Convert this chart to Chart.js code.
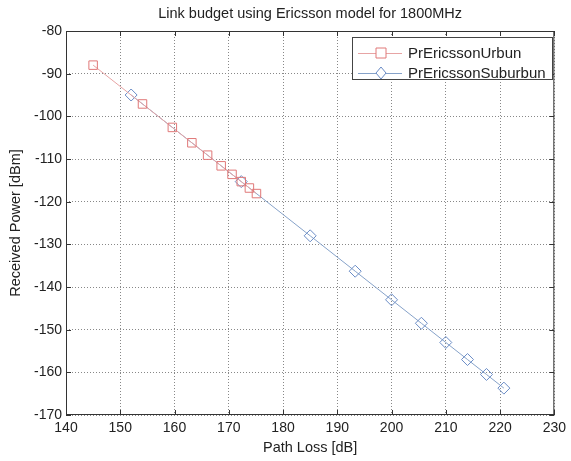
<!DOCTYPE html>
<html>
<head>
<meta charset="utf-8">
<script src="https://cdn.jsdelivr.net/npm/chart.js@4"></script>
<style>
    body { margin: 0; background: #fff; }
    #wrap { width: 571px; height: 461px; }
</style>
</head>
<body>
<div id="wrap"><canvas id="myChart" width="571" height="461"></canvas></div>
<script>
const titleText = 'Link budget using Ericsson model for 1800MHz';
const urbanLoss = [145, 154.1, 159.6, 163.2, 166.1, 168.6, 170.6, 172.3, 173.8, 175.1];
const urbanPower = [-88, -97.1, -102.6, -106.2, -109.1, -111.6, -113.6, -115.3, -116.8, -118.1];
const suburbanLoss = [152, 172.3, 185, 193.3, 200, 205.5, 210, 214, 217.5, 220.7];
const suburbanPower = [-95, -115.3, -128, -136.3, -143, -148.5, -153, -157, -160.5, -163.7];
const xTicks = [140, 150, 160, 170, 180, 190, 200, 210, 220, 230];
const yTicks = [-80, -90, -100, -110, -120, -130, -140, -150, -160, -170];

const font = 'Liberation Sans, Arial, sans-serif';

function pts(xs, ys) {
    return xs.map((x, i) => ({ x: x, y: ys[i] }));
}

// matlab style frame, inward ticks, title and legend
const matlabBits = {
    id: 'matlabBits',
    afterDraw(chart) {
        const ctx = chart.ctx;
        const a = chart.chartArea;
        const xs = chart.scales.x, ys = chart.scales.y;
        ctx.save();
        ctx.strokeStyle = '#333';
        ctx.lineWidth = 1;
        ctx.strokeRect(a.left + 0.5, a.top + 0.5, a.right - a.left - 1, a.bottom - a.top - 1);
        ctx.beginPath();
        xTicks.forEach(v => {
            const px = Math.round(xs.getPixelForValue(v)) + 0.5;
            ctx.moveTo(px, a.bottom); ctx.lineTo(px, a.bottom - 5);
            ctx.moveTo(px, a.top); ctx.lineTo(px, a.top + 5);
        });
        yTicks.forEach(v => {
            const py = Math.round(ys.getPixelForValue(v)) + 0.5;
            ctx.moveTo(a.left, py); ctx.lineTo(a.left + 5, py);
            ctx.moveTo(a.right, py); ctx.lineTo(a.right - 5, py);
        });
        ctx.stroke();

        // title
        ctx.fillStyle = '#222';
        ctx.font = '14.5px ' + font;
        ctx.textAlign = 'center';
        ctx.textBaseline = 'middle';
        ctx.fillText(titleText, (a.left + a.right) / 2, 14);

        // legend
        const bx = 352, by = 37, bw = 200, bh = 42;
        ctx.fillStyle = '#fff';
        ctx.fillRect(bx, by, bw, bh);
        ctx.strokeStyle = '#444';
        ctx.strokeRect(bx + 0.5, by + 0.5, bw, bh);
        chart.data.datasets.forEach((ds, i) => {
            const ry = 53 + i * 20;
            ctx.strokeStyle = ds.borderColor;
            ctx.lineWidth = 1;
            ctx.beginPath();
            ctx.moveTo(358, ry + 0.5); ctx.lineTo(402, ry + 0.5);
            ctx.stroke();
            ctx.fillStyle = '#fff';
            ctx.strokeStyle = ds.pointBorderColor;
            ctx.beginPath();
            if (ds.pointStyle === 'rect') {
                ctx.rect(376, ry - 5, 10, 10);
            } else {
                ctx.moveTo(381, ry - 6); ctx.lineTo(386, ry);
                ctx.lineTo(381, ry + 6); ctx.lineTo(376, ry);
                ctx.closePath();
            }
            ctx.fill();
            ctx.stroke();
            ctx.fillStyle = '#222';
            ctx.textAlign = 'left';
            ctx.font = '15px ' + font;
            ctx.fillText(ds.label, 408, ry + 1);
        });
        ctx.restore();
    }
};

const ctx = document.getElementById('myChart').getContext('2d');
const chart = new Chart(ctx, {
    type: 'scatter',
    data: {
        datasets: [{
            label: 'PrEricssonUrbun',
            data: pts(urbanLoss, urbanPower),
            showLine: true,
            borderColor: '#e7a4a4',
            borderWidth: 1,
            pointStyle: 'rect',
            pointRadius: 6,
            pointBorderColor: '#e07878',
            pointBackgroundColor: 'rgba(0,0,0,0)',
            pointBorderWidth: 1,
        }, {
            label: 'PrEricssonSuburbun',
            data: pts(suburbanLoss, suburbanPower),
            showLine: true,
            borderColor: '#86a2c9',
            borderWidth: 1,
            pointStyle: 'rectRot',
            pointRadius: 6,
            pointBorderColor: '#6a8cc6',
            pointBackgroundColor: 'rgba(0,0,0,0)',
            pointBorderWidth: 1,
        }]
    },
    options: {
        responsive: false,
        animation: false,
        layout: { padding: { top: 31, right: 13, left: 0, bottom: 0 } },
        scales: {
            x: {
                type: 'linear',
                min: 140,
                max: 230,
                afterFit: (s) => { s.height = 46; },
                afterBuildTicks: (s) => { s.ticks = xTicks.map(v => ({ value: v })); },
                ticks: { color: '#222', padding: 5, font: { family: font, size: 14 } },
                grid: { color: '#888', drawTicks: false },
                border: { display: false, dash: [1, 2] },
                title: {
                    display: true,
                    text: 'Path Loss [dB]',
                    color: '#222',
                    font: { family: font, size: 14.5 },
                    padding: { top: 0, bottom: 4 },
                },
            },
            y: {
                type: 'linear',
                min: -170,
                max: -80,
                afterFit: (s) => { s.width = 66; },
                afterBuildTicks: (s) => { s.ticks = yTicks.map(v => ({ value: v })); },
                ticks: { color: '#222', padding: 4, font: { family: font, size: 14 } },
                grid: { color: '#888', drawTicks: false },
                border: { display: false, dash: [1, 2] },
                title: {
                    display: true,
                    text: 'Received Power [dBm]',
                    color: '#222',
                    font: { family: font, size: 14.5 },
                    padding: { top: 7, bottom: 0 },
                },
            }
        },
        plugins: {
            legend: { display: false },
            tooltip: { enabled: false },
        }
    },
    plugins: [matlabBits]
});
</script>
</body>
</html>
